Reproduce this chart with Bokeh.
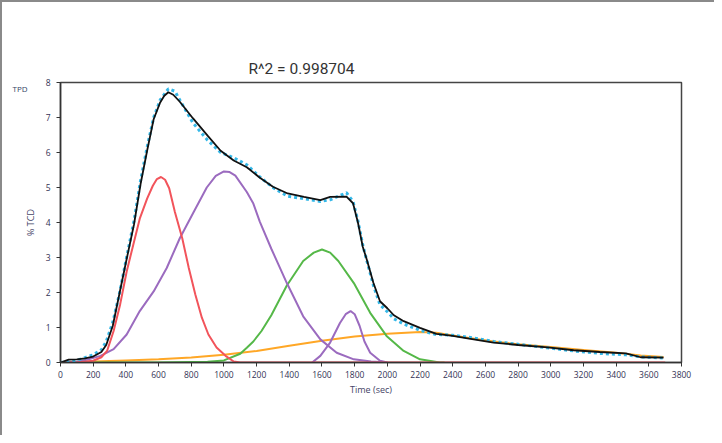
from bokeh.plotting import figure
from bokeh.models import Range1d, FixedTicker, Title, LinearAxis
from bokeh.embed import file_html
from bokeh.resources import INLINE

# ---- data ----
fit_x = [0, 50, 100, 150, 200, 250, 280, 320, 360, 400, 450, 490, 530, 570, 610, 635, 660, 690, 730, 810,
         900, 980, 1060, 1140, 1220, 1300, 1390, 1490, 1590, 1650, 1750, 1790, 1820, 1850, 1875, 1915, 1955,
         2000, 2040, 2100, 2200, 2300, 2400, 2500, 2650, 2800, 2980, 3140, 3300, 3460, 3550, 3690]
fit_y = [0.0, 0.08, 0.09, 0.12, 0.17, 0.30, 0.50, 1.05, 1.95, 2.85, 3.95, 5.10, 6.05, 6.95, 7.43, 7.62,
         7.72, 7.65, 7.45, 6.98, 6.48, 6.05, 5.77, 5.58, 5.28, 5.02, 4.83, 4.73, 4.64, 4.73, 4.74, 4.55,
         4.00, 3.30, 2.93, 2.27, 1.75, 1.55, 1.35, 1.18, 0.99, 0.82, 0.76, 0.68, 0.57, 0.50, 0.43, 0.35,
         0.30, 0.26, 0.15, 0.14]

data_x = [0, 50, 100, 150, 200, 250, 280, 320, 360, 400, 450, 490, 530, 570, 610, 660, 700, 730, 810, 900,
          980, 1060, 1140, 1220, 1300, 1390, 1490, 1590, 1650, 1750, 1790, 1820, 1850, 1875, 1915, 1955,
          2000, 2040, 2100, 2200, 2300, 2400, 2500, 2650, 2800, 2980, 3140, 3300, 3460, 3550, 3690]
data_y = [0.0, 0.02, 0.06, 0.14, 0.22, 0.36, 0.60, 1.15, 1.95, 2.90, 4.05, 5.20, 6.15, 7.00, 7.50, 7.82,
          7.75, 7.50, 6.85, 6.35, 6.00, 5.85, 5.65, 5.30, 5.00, 4.75, 4.68, 4.60, 4.65, 4.85, 4.60, 4.05,
          3.35, 2.90, 2.20, 1.65, 1.45, 1.25, 1.10, 0.92, 0.80, 0.78, 0.72, 0.60, 0.52, 0.42, 0.33, 0.26,
          0.22, 0.16, 0.13]

red_x = [0, 100, 200, 250, 285, 325, 365, 405, 445, 485, 530, 565, 590, 615, 640, 665, 700, 745, 785,
         825, 865, 905, 955, 1010, 1060, 1100, 3700]
red_y = [0.0, 0.0, 0.05, 0.15, 0.33, 0.90, 1.66, 2.60, 3.36, 4.11, 4.68, 5.05, 5.24, 5.30, 5.22, 4.98,
         4.30, 3.55, 2.70, 1.94, 1.28, 0.80, 0.43, 0.19, 0.03, 0.0, 0.0]

purple1_x = [0, 100, 160, 245, 325, 405, 485, 570, 650, 730, 815, 895, 950, 1000, 1035, 1070, 1140,
             1180, 1220, 1290, 1385, 1485, 1590, 1690, 1795, 1900, 2000]
purple1_y = [0.0, 0.02, 0.08, 0.19, 0.38, 0.80, 1.47, 2.03, 2.70, 3.55, 4.30, 5.00, 5.33, 5.46, 5.44,
             5.34, 4.87, 4.54, 4.02, 3.25, 2.27, 1.32, 0.66, 0.28, 0.09, 0.03, 0.0]

green_x = [0, 150, 600, 900, 1000, 1100, 1140, 1180, 1230, 1290, 1385, 1485, 1550, 1600, 1650, 1700,
           1795, 1895, 1995, 2100, 2200, 2320, 2350]
green_y = [0.0, 0.0, 0.0, 0.02, 0.06, 0.25, 0.42, 0.60, 0.90, 1.35, 2.20, 2.90, 3.14, 3.23, 3.14, 2.90,
           2.27, 1.42, 0.76, 0.33, 0.09, 0.0, 0.0]

purple2_x = [1540, 1590, 1650, 1710, 1745, 1775, 1800, 1830, 1860, 1895, 1955, 2000]
purple2_y = [0.0, 0.19, 0.57, 1.13, 1.38, 1.47, 1.38, 1.05, 0.60, 0.28, 0.05, 0.0]

orange_x = [0, 200, 400, 600, 800, 1000, 1200, 1400, 1600, 1800, 2000, 2200, 2300, 2400, 2500, 2650,
            2800, 3000, 3200, 3400, 3550, 3690]
orange_y = [0.0, 0.03, 0.06, 0.09, 0.14, 0.22, 0.33, 0.48, 0.62, 0.74, 0.82, 0.87, 0.85, 0.77, 0.70,
            0.60, 0.52, 0.44, 0.36, 0.28, 0.20, 0.16]

x_ticks = list(range(0, 3801, 200))
y_ticks = [0, 1, 2, 3, 4, 5, 6, 7, 8]

title_text = "R^2 = 0.998704"
corner_text = "TPD"
corner_level = 7.84
x_label = "Time (sec)"
y_label = "% TCD"

# ---- figure ----
p = figure(width=714, height=435, output_backend="svg", toolbar_location=None,
           x_range=Range1d(0, 3800), y_range=Range1d(0, 8),
           min_border_left=58, min_border_right=35, min_border_top=80, min_border_bottom=75)
p.styles = {"border-top": "2px solid #8a8a8a", "border-left": "2px solid #8a8a8a"}
p.xgrid.visible = False
p.ygrid.visible = False
p.outline_line_color = "#444444"
p.outline_line_width = 1.5
p.background_fill_color = "white"
p.border_fill_color = "white"

for ax in (p.xaxis[0], p.yaxis[0]):
    ax.axis_line_color = "#333333"
    ax.axis_line_width = 1.5
    ax.major_tick_in = 0
    ax.major_tick_out = 4
    ax.major_tick_line_color = "#333333"
    ax.minor_tick_line_color = None
    ax.major_label_text_font = "Open Sans"
    ax.major_label_text_font_size = "8.5px"
    ax.major_label_text_color = "#333355"
    ax.axis_label_text_font = "Open Sans"
    ax.axis_label_text_font_size = "9px"
    ax.axis_label_text_font_style = "normal"
    ax.axis_label_text_color = "#444466"

p.xaxis[0].ticker = FixedTicker(ticks=x_ticks)
p.yaxis[0].ticker = FixedTicker(ticks=y_ticks)
p.xaxis[0].major_label_standoff = 4
p.yaxis[0].major_label_standoff = 6
p.xaxis.axis_label = x_label
p.yaxis.axis_label = y_label
p.xaxis[0].axis_label_standoff = 2
p.yaxis[0].axis_label_standoff = 6

# corner "TPD" text, placed as a lone tick label on an extra, invisible left axis
p.extra_y_ranges = {"corner": Range1d(0, 8)}
corner_axis = LinearAxis(y_range_name="corner", ticker=FixedTicker(ticks=[corner_level]),
                         major_label_overrides={corner_level: corner_text},
                         axis_line_color=None, major_tick_line_color=None, minor_tick_line_color=None,
                         major_tick_in=0, major_tick_out=0, major_label_standoff=-7,
                         major_label_text_font="Open Sans", major_label_text_font_size="8px",
                         major_label_text_color="#334466")
p.add_layout(corner_axis, "left")

# main title
p.add_layout(Title(text=title_text, align="left", offset=188, standoff=10,
                   text_font="Roboto", text_font_size="15.5px",
                   text_font_style="normal", text_color="#333333"), "above")

lw = 2
p.line(orange_x, orange_y, color="#ffa726", line_width=lw)
p.line(green_x, green_y, color="#55b848", line_width=lw)
p.line(purple1_x, purple1_y, color="#9b6bbf", line_width=lw)
p.line(purple2_x, purple2_y, color="#9b6bbf", line_width=lw)
p.line(red_x, red_y, color="#f2545b", line_width=lw)
p.line(data_x, data_y, color="#35b8e8", line_width=3, line_dash="3 3")
p.line(fit_x, fit_y, color="#111111", line_width=1.8)

open("out.html", "w").write(file_html(p, INLINE))
